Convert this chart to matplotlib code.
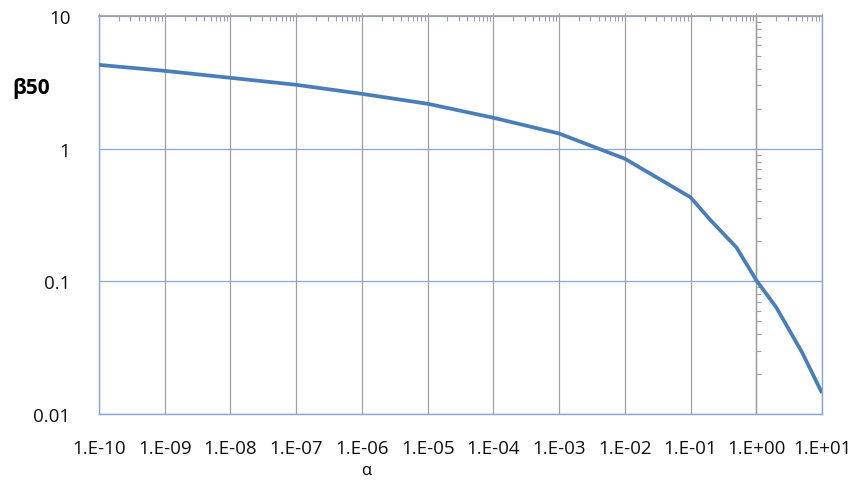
import matplotlib
matplotlib.use("Agg")
import matplotlib.pyplot as plt
from matplotlib.ticker import LogLocator, FixedLocator, FixedFormatter, NullFormatter

alpha = [1e-10, 1e-9, 1e-8, 1e-7, 1e-6, 1e-5, 1e-4, 1e-3, 1e-2, 1e-1, 0.2, 0.5, 1, 2, 5, 10]
beta50 = [4.28, 3.86, 3.42, 3.03, 2.59, 2.18, 1.71, 1.30, 0.84, 0.43, 0.29, 0.18, 0.102, 0.064, 0.029, 0.0144]

xticks = [10.0 ** e for e in range(-10, 2)]
xlabels = ["1.E-10", "1.E-09", "1.E-08", "1.E-07", "1.E-06", "1.E-05", "1.E-04",
           "1.E-03", "1.E-02", "1.E-01", "1.E+00", "1.E+01"]
yticks = [0.01, 0.1, 1, 10]
ylabels = ["0.01", "0.1", "1", "10"]

plt.rcParams['font.family'] = ['Open Sans', 'DejaVu Sans']

BLUE_AX = '#86a8d8'
GREY = '#a0a0a0'
LINE = '#4a7ebb'

fig = plt.figure(figsize=(8.55, 4.81), dpi=100)
ax = fig.add_axes([99/855, 1-415/481, (822-99)/855, (415-17)/481])
ax.set_xscale('log')
ax.set_yscale('log')
ax.set_xlim(1e-10, 10)
ax.set_ylim(0.01, 10)

ax.plot(alpha, beta50, color=LINE, lw=2.7, solid_capstyle='butt', zorder=5)

ax.xaxis.set_major_locator(FixedLocator(xticks))
ax.xaxis.set_major_formatter(FixedFormatter(xlabels))
ax.xaxis.set_minor_locator(LogLocator(base=10, subs=range(2, 10), numticks=30))
ax.xaxis.set_minor_formatter(NullFormatter())
ax.yaxis.set_major_locator(FixedLocator(yticks))
ax.yaxis.set_major_formatter(FixedFormatter(ylabels))
ax.yaxis.set_minor_locator(FixedLocator([]))

ax.tick_params(axis='x', which='major', bottom=False, top=True, direction='out',
               length=2.5, color=GREY, labelsize=13.5, pad=15.5, labelcolor='#111111')
ax.tick_params(axis='x', which='minor', bottom=False, top=True, direction='in',
               length=3.6, color=GREY, width=0.8)
ax.tick_params(axis='y', which='major', left=False, right=False,
               labelsize=13.5, pad=17, labelcolor='#111111')

ax.grid(True, axis='x', which='major', color=GREY, lw=0.9)
ax.grid(True, axis='y', which='major', color=BLUE_AX, lw=0.9)

for s in ['left', 'bottom', 'right']:
    ax.spines[s].set_color(BLUE_AX)
    ax.spines[s].set_linewidth(1.0)
ax.spines['top'].set_color(GREY)
ax.spines['top'].set_linewidth(1.2)

# vertical axis crossing at alpha = 1
sec = ax.secondary_yaxis(10/11)
sec.spines['right'].set_color(GREY)
sec.spines['left'].set_color(GREY)
sec.spines['right'].set_linewidth(1.0)
sec.spines['left'].set_linewidth(1.0)
sec.yaxis.set_major_locator(FixedLocator([]))
sec.yaxis.set_minor_locator(LogLocator(base=10, subs=range(2, 10), numticks=30))
sec.yaxis.set_minor_formatter(NullFormatter())
sec.tick_params(which='minor', direction='out', length=3.6, color=GREY, width=0.8,
                left=False, right=True, labelleft=False, labelright=False)

fig.text(12/855, 1-89/481, 'β50', fontsize=15, fontweight='bold', ha='left', va='center')
fig.text(366/855, 1-471/481, 'α', fontsize=12, ha='center', va='center')

fig.savefig('out.png', dpi=100)
